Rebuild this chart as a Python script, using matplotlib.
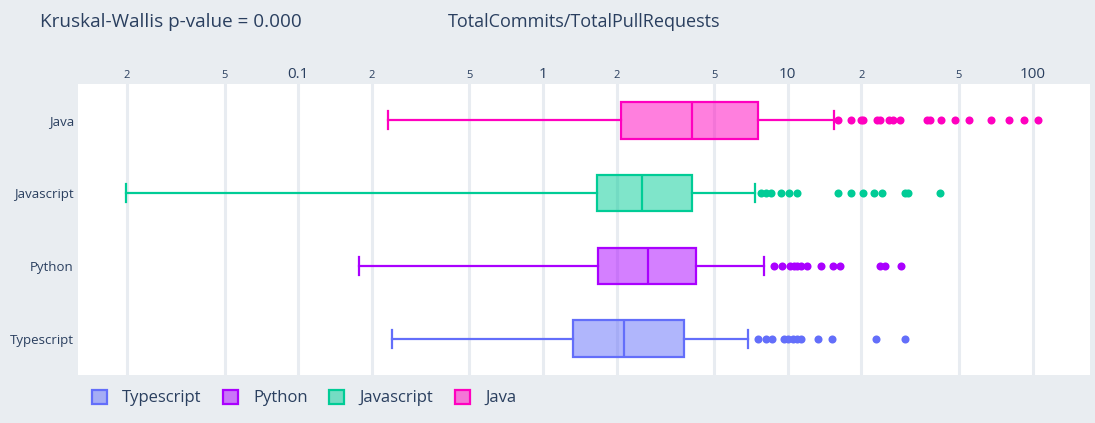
import matplotlib
matplotlib.use("Agg")
import matplotlib.pyplot as plt
from matplotlib.patches import Patch
from matplotlib.colors import to_rgba
from matplotlib.ticker import FixedLocator, FixedFormatter

# ---------------- data ----------------
languages = ["Typescript", "Python", "Javascript", "Java"]
colors = ["#636EFA", "#AA00FF", "#00CC96", "#FF00BF"]

q1 = [1.33, 1.68, 1.66, 2.09]
median = [2.14, 2.69, 2.54, 4.08]
q3 = [3.77, 4.22, 4.08, 7.55]
whisker_low = [0.2405, 0.177, 0.0197, 0.232]
whisker_high = [6.90, 8.0, 7.37, 15.5]

outliers_typescript = [7.57, 8.13, 8.63, 9.64, 10.06, 10.46, 10.9, 11.28, 13.27, 15.1, 23.0, 30.1]
outliers_python = [8.82, 9.51, 10.2, 10.56, 10.9, 11.28, 11.96, 13.63, 15.23, 16.4, 23.8, 24.9, 29.1]
outliers_javascript = [7.74, 8.13, 8.54, 9.41, 10.15, 10.9, 16.1, 18.1, 20.2, 22.4, 24.3, 30.1, 31.1, 41.8]
outliers_java = [16.1, 18.1, 19.9, 20.3, 23.2, 23.8, 26.0, 26.9, 28.7, 37.2, 38.1, 42.2,
                 48.1, 54.8, 67.8, 79.8, 92.5, 105.5]
outliers = [outliers_typescript, outliers_python, outliers_javascript, outliers_java]

major_ticks = [0.1, 1, 10, 100]
major_labels = ["0.1", "1", "10", "100"]
minor_ticks = [0.02, 0.05, 0.2, 0.5, 2, 5, 20, 50]
minor_labels = ["2", "5", "2", "5", "2", "5", "2", "5"]

title_left = "Kruskal-Wallis p-value = 0.000"
title_mid = "TotalCommits/TotalPullRequests"

# ---------------- style ----------------
FONT = "Open Sans"
TXT = "#2a3f5f"
PAPER = "#e9edf1"
GRID = "#e8ecf1"

plt.rcParams["font.family"] = [FONT, "DejaVu Sans"]

fig = plt.figure(figsize=(10.95, 4.23), dpi=100, facecolor=PAPER)
ax = fig.add_axes([78 / 1095, 1 - 375 / 423, (1090 - 78) / 1095, (375 - 84) / 423])
ax.set_facecolor("white")

for i, lang in enumerate(languages):
    c = colors[i]
    stats = [dict(med=median[i], q1=q1[i], q3=q3[i], whislo=whisker_low[i],
                  whishi=whisker_high[i], fliers=outliers[i], label=lang)]
    ax.bxp(stats, positions=[i], widths=0.5, capwidths=0.25,
           orientation="horizontal", patch_artist=True, showfliers=True,
           boxprops=dict(facecolor=to_rgba(c, 0.5), edgecolor=c, linewidth=1.6),
           medianprops=dict(color=c, linewidth=1.6),
           whiskerprops=dict(color=c, linewidth=1.6),
           capprops=dict(color=c, linewidth=1.6),
           flierprops=dict(marker="o", markerfacecolor=c, markeredgecolor="none",
                           markersize=5.8, linestyle="none"),
           zorder=3)

ax.set_xscale("log")
ax.set_xlim(0.0126, 171.6)
ax.set_ylim(-0.5, 3.5)

ax.set_yticks(range(len(languages)))
ax.set_yticklabels(languages)
ax.tick_params(axis="y", length=0, pad=3, labelsize=9.5, labelcolor=TXT)

ax.xaxis.set_major_locator(FixedLocator(major_ticks))
ax.xaxis.set_major_formatter(FixedFormatter(major_labels))
ax.xaxis.set_minor_locator(FixedLocator(minor_ticks))
ax.xaxis.set_minor_formatter(FixedFormatter(minor_labels))
ax.xaxis.tick_top()
ax.tick_params(axis="x", which="major", length=0, pad=1.5, labelsize=11, labelcolor=TXT,
               top=True, bottom=False, labeltop=True, labelbottom=False)
ax.tick_params(axis="x", which="minor", length=0, pad=2, labelsize=8, labelcolor=TXT,
               top=True, bottom=False, labeltop=True, labelbottom=False)
ax.grid(True, axis="x", which="both", color=GRID, linewidth=2.2, zorder=0)
ax.grid(False, axis="y")
ax.set_axisbelow(True)
for s in ax.spines.values():
    s.set_visible(False)

fig.text(40 / 1095, 1 - 22 / 423, title_left, ha="left", va="center",
         fontsize=13.6, color=TXT)
fig.text(448 / 1095, 1 - 22 / 423, title_mid, ha="left", va="center",
         fontsize=13, color=TXT)

handles = [Patch(facecolor=to_rgba(c, 0.5), edgecolor=c, linewidth=1.6) for c in colors]
fig.legend(handles, languages, loc="center left", bbox_to_anchor=(92 / 1095, 1 - 398 / 423),
           ncol=4, frameon=False, fontsize=12, labelcolor=TXT,
           handlelength=0.9, handleheight=0.9, handletextpad=0.9, columnspacing=1.3,
           borderpad=0, borderaxespad=0)

fig.savefig("out.png", dpi=100, facecolor=PAPER)
